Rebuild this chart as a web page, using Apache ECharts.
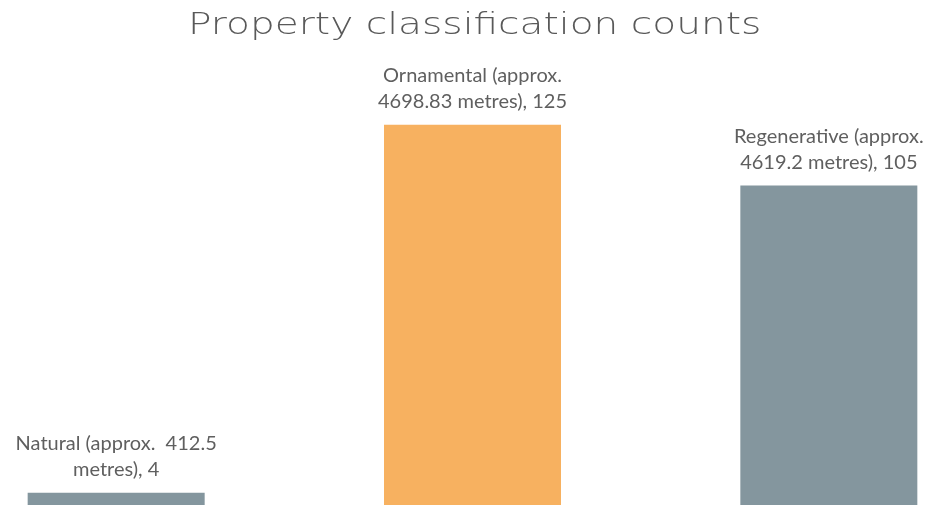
<!DOCTYPE html>
<html>
<head>
<meta charset="utf-8">
<script src="https://cdn.jsdelivr.net/npm/echarts@6/dist/echarts.min.js"></script>
<style>
html,body{margin:0;padding:0;background:#fff;overflow:hidden;}
/* 图表比窗口宽，左右两边的类目空白被裁掉 */
#myChart{width:1069px;height:506px;margin-left:-62px;}
</style>
</head>
<body>
<div id="myChart"></div>
<script>
// 数据
var categories = ['Natural', 'Ornamental', 'Regenerative'];
var lengths = ['412.5', '4698.83', '4619.2'];   // approx. metres
var counts = [4, 125, 105];
var colors = ['#84969e', '#f7b160', '#84969e'];
var chartTitle = 'Property classification counts';

var barData = [];
for (var i = 0; i < counts.length; i++) {
    barData.push({ value: counts[i], itemStyle: { color: colors[i] } });
}

var myChart = echarts.init(document.getElementById('myChart'));
var option = {
    animation: false,
    // 标题用 graphic 画，横向拉宽一点，接近原图的宽字体
    graphic: [{
        type: 'text',
        x: 250,
        y: 10,
        scaleX: 1.26,
        style: {
            text: chartTitle,
            fontFamily: 'DejaVu Sans',
            fontWeight: 200,
            fontSize: 31,
            fill: '#595959',
            verticalAlign: 'top'
        }
    }],
    grid: {
        left: 0,
        right: 0,
        top: 79,
        bottom: 1
    },
    xAxis: {
        type: 'category',
        data: categories,
        axisLine: { show: false },
        axisTick: { show: false },
        axisLabel: { show: false }
    },
    yAxis: {
        type: 'value',
        min: 0,
        max: 140,
        show: false,
        splitLine: { show: false }
    },
    series: [{
        type: 'bar',
        barWidth: 177,
        data: barData,
        label: {
            show: true,
            position: 'top',
            distance: 10,
            fontFamily: 'Lato',
            fontSize: 20,
            lineHeight: 26,
            color: '#5f5f5f',
            align: 'center',
            formatter: function (p) {
                var i = p.dataIndex;
                if (i === 0) {
                    return categories[i] + ' (approx.  ' + lengths[i] + '\nmetres), ' + counts[i];
                }
                return categories[i] + ' (approx.\n' + lengths[i] + ' metres), ' + counts[i];
            }
        }
    }]
};
myChart.setOption(option);
</script>
</body>
</html>
